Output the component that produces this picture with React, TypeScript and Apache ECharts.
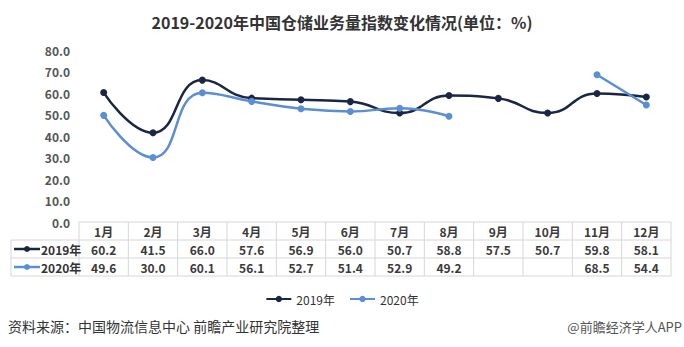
import React, { useEffect, useRef } from "react";
import * as echarts from "echarts";

const categories = ["1月", "2月", "3月", "4月", "5月", "6月", "7月", "8月", "9月", "10月", "11月", "12月"];
const series2019 = [60.2, 41.5, 66.0, 57.6, 56.9, 56.0, 50.7, 58.8, 57.5, 50.7, 59.8, 58.1];
const series2020: (number | null)[] = [49.6, 30.0, 60.1, 56.1, 52.7, 51.4, 52.9, 49.2, null, null, 68.5, 54.4];
const seriesNames = ["2019年", "2020年"];
const yMin = 0;
const yMax = 80;
const yStep = 10;
const titleText = "2019-2020年中国仓储业务量指数变化情况(单位：%)";
const sourceText = "资料来源：中国物流信息中心 前瞻产业研究院整理";
const creditText = "@前瞻经济学人APP";

const C2019 = "#1b2645";
const C2020 = "#5b8fd3";
const FONT = '"Noto Sans CJK SC", "Noto Sans", sans-serif';

export default function App() {
  const ref = useRef<HTMLDivElement>(null);
  useEffect(() => {
    if (!ref.current) return;
    const chart = echarts.init(ref.current, undefined, { renderer: "svg" });
    const gridLeft = 79;
    const gridRight = 13;
    const gridTop = 50;
    const gridBottom = 125;
    chart.setOption({
      animation: false,
      backgroundColor: "#fff",
      textStyle: { fontFamily: FONT },
      title: {
        text: titleText,
        left: "center",
        top: 9,
        textStyle: { fontSize: 16, fontWeight: "bold", color: "#333", fontFamily: FONT },
      },
      legend: {
        data: seriesNames,
        left: "center",
        top: 288,
        itemWidth: 25,
        itemHeight: 8,
        itemGap: 14,
        textStyle: { fontSize: 12, color: "#333", fontFamily: FONT },
      },
      grid: { left: gridLeft, right: gridRight, top: gridTop, bottom: gridBottom, containLabel: false },
      xAxis: {
        type: "category",
        data: categories,
        boundaryGap: true,
        axisLine: { show: false },
        axisTick: { show: false },
        axisLabel: { show: false },
        splitLine: { show: false },
      },
      yAxis: {
        type: "value",
        min: yMin,
        max: yMax,
        interval: yStep,
        axisLine: { show: false },
        axisTick: { show: false },
        splitLine: { show: false },
        axisLabel: {
          margin: 9,
          fontSize: 12,
          fontWeight: "bold",
          color: "#555",
          fontFamily: FONT,
          formatter: (v: number) => v.toFixed(1),
        },
      },
      series: [
        {
          name: seriesNames[0],
          type: "line",
          data: series2019,
          smooth: 0.5,
          symbol: "circle",
          symbolSize: 7,
          itemStyle: { color: C2019 },
          lineStyle: { color: C2019, width: 2.5 },
        },
        {
          name: seriesNames[1],
          type: "line",
          data: series2020,
          smooth: 0.5,
          connectNulls: false,
          symbol: "circle",
          symbolSize: 7,
          itemStyle: { color: C2020 },
          lineStyle: { color: C2020, width: 2.5 },
        },
      ],
    });

    // data table under the plot, aligned with the category axis
    const x0 = chart.convertToPixel({ xAxisIndex: 0 }, 0) as number;
    const x1 = chart.convertToPixel({ xAxisIndex: 0 }, 1) as number;
    const colW = x1 - x0;
    const tableLeft = 11;
    const colStart = x0 - colW / 2;
    const colEnd = colStart + colW * categories.length;
    const yAxis0 = chart.convertToPixel({ yAxisIndex: 0 }, 0) as number;
    const rowH = 18;
    const rHead = yAxis0;
    const r1 = rHead + rowH;
    const r2 = r1 + rowH;
    const r3 = r2 + rowH;
    const border = { stroke: "#d6d6d6", lineWidth: 1 };
    const els: any[] = [];
    const hline = (y: number, xa: number, xb: number) =>
      els.push({ type: "line", shape: { x1: xa, y1: y, x2: xb, y2: y }, style: border, silent: true });
    const vline = (x: number, ya: number, yb: number) =>
      els.push({ type: "line", shape: { x1: x, y1: ya, x2: x, y2: yb }, style: border, silent: true });
    hline(rHead, colStart, colEnd);
    hline(r1, tableLeft, colEnd);
    hline(r2, tableLeft, colEnd);
    hline(r3, tableLeft, colEnd);
    vline(tableLeft, r1, r3);
    for (let i = 0; i <= categories.length; i++) vline(colStart + i * colW, rHead, r3);
    const cellText = (text: string, x: number, y: number) =>
      els.push({
        type: "text",
        x,
        y,
        silent: true,
        style: {
          text,
          fill: "#3a3a3a",
          font: `bold 12px ${FONT}`,
          textAlign: "center",
          textVerticalAlign: "middle",
        },
      });
    categories.forEach((c, i) => {
      const cx = chart.convertToPixel({ xAxisIndex: 0 }, i) as number;
      cellText(c, cx, rHead + rowH / 2);
      cellText(series2019[i].toFixed(1), cx, r1 + rowH / 2);
      const v = series2020[i];
      if (v !== null) cellText(v.toFixed(1), cx, r2 + rowH / 2);
    });
    const rowLabel = (name: string, color: string, y: number) => {
      els.push({ type: "line", shape: { x1: 14, y1: y, x2: 40, y2: y }, style: { stroke: color, lineWidth: 2.5 }, silent: true });
      els.push({ type: "circle", shape: { cx: 27, cy: y, r: 3 }, style: { fill: color }, silent: true });
      els.push({
        type: "text",
        x: 41,
        y,
        silent: true,
        style: { text: name, fill: "#333", font: `bold 12px ${FONT}`, textAlign: "left", textVerticalAlign: "middle" },
      });
    };
    rowLabel(seriesNames[0], C2019, r1 + rowH / 2);
    rowLabel(seriesNames[1], C2020, r2 + rowH / 2);
    els.push({
      type: "text",
      x: 8,
      y: 326,
      silent: true,
      style: { text: sourceText, fill: "#333", font: `14px ${FONT}`, textAlign: "left", textVerticalAlign: "middle" },
    });
    els.push({
      type: "text",
      x: 682,
      y: 326,
      silent: true,
      style: { text: creditText, fill: "#555", font: `13px ${FONT}`, textAlign: "right", textVerticalAlign: "middle" },
    });
    chart.setOption({ graphic: { elements: els } });
    return () => chart.dispose();
  }, []);
  return <div ref={ref} style={{ width: 684, height: 347, position: "absolute", left: 0, top: 0 }} />;
}
